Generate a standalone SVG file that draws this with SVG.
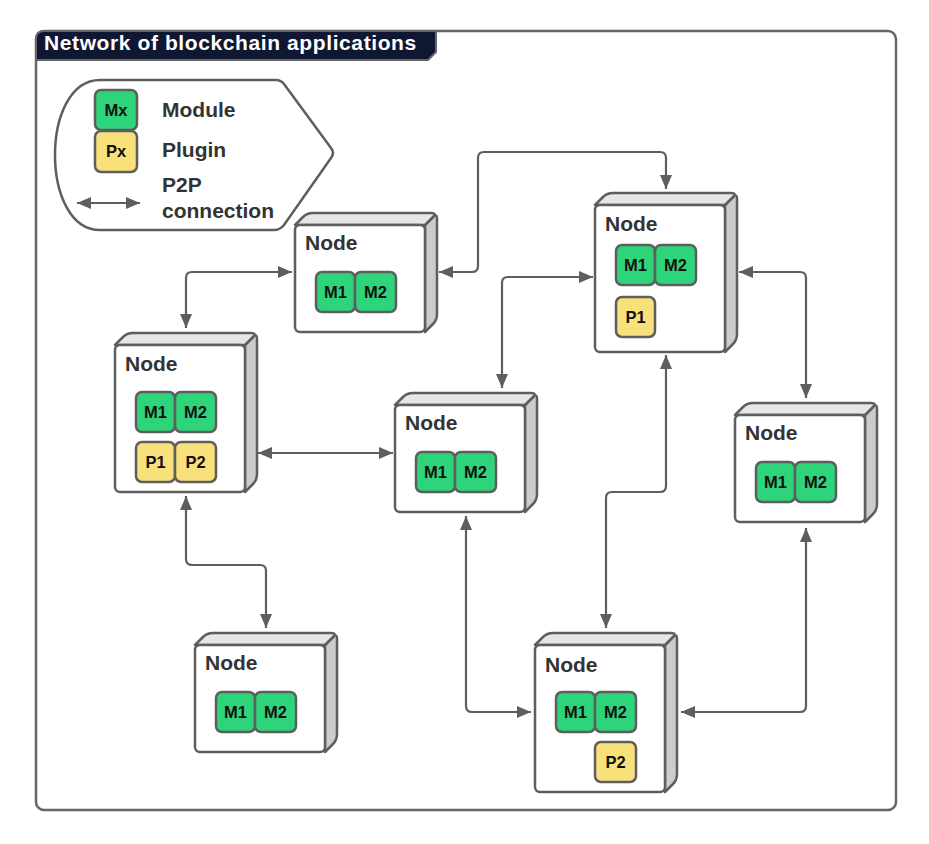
<svg xmlns="http://www.w3.org/2000/svg" width="929" height="844" viewBox="0 0 929 844">
<defs>
<style>
.edge{fill:none;stroke:#5e5e5e;stroke-width:2.2;marker-start:url(#ah);marker-end:url(#ah)}
.front{fill:#fff;stroke:#5e5e5e;stroke-width:2.5}
.top{fill:#e6e6e6;stroke:#5e5e5e;stroke-width:2.5;stroke-linejoin:round}
.side{fill:#cccccc;stroke:#5e5e5e;stroke-width:2.5;stroke-linejoin:round}
.mod{fill:#2ed47a;stroke:#5e5e5e;stroke-width:2.5}
.plg{fill:#f8e07a;stroke:#5e5e5e;stroke-width:2.5}
.mt{font-family:"Liberation Sans",Arial,sans-serif;font-weight:bold;font-size:16.5px;fill:#111;text-anchor:middle}
.nt{font-family:"Liberation Sans",Arial,sans-serif;font-weight:bold;font-size:21px;fill:#333}
.lt{font-family:"Liberation Sans",Arial,sans-serif;font-weight:bold;font-size:21px;fill:#333}
</style>
<marker id="ah" viewBox="0 0 14 12" refX="14" refY="6" markerWidth="14" markerHeight="12" markerUnits="userSpaceOnUse" orient="auto-start-reverse">
<path d="M0,0 L14,6 L0,12 Z" fill="#5e5e5e"/>
</marker>
</defs>
<rect x="0" y="0" width="929" height="844" fill="#fff"/>
<g id="frame">
<rect x="36" y="31" width="860" height="779" rx="8" fill="#fff" stroke="#666" stroke-width="2.5"/>
<path d="M36,39 Q36,31 44,31 H436 V52 L428,60 H36 Z" fill="#0f1733" stroke="#666" stroke-width="2"/>
<text x="44" y="50" font-family="Liberation Sans,Arial,sans-serif" font-weight="bold" font-size="21" letter-spacing="0.6" fill="#fff">Network of blockchain applications</text>
</g>
<g id="legend">
<path d="M100,80 H276 Q281,80 284,84 L331,148 Q335,153 331,158 L284,225 Q280,230 274,230 H100 C40,230 40,80 100,80 Z" fill="#fff" stroke="#5e5e5e" stroke-width="2.5"/>
<rect class="mod" x="95" y="90" width="42" height="40" rx="6"/>
<text class="mt" x="116" y="116">Mx</text>
<rect class="plg" x="95" y="131" width="42" height="41" rx="6"/>
<text class="mt" x="116" y="157">Px</text>
<text class="lt" x="162" y="117">Module</text>
<text class="lt" x="162" y="157">Plugin</text>
<text class="lt" x="162" y="192">P2P</text>
<text class="lt" x="162" y="218">connection</text>
<path class="edge" d="M77,203 H140"/>
</g>
<g id="connectors">
<path class="edge" d="M292,272 H192 Q186,272 186,278 V328"/>
<path class="edge" d="M439,272 H472 Q478,272 478,266 V158 Q478,152 484,152 H660 Q666,152 666,158 V189"/>
<path class="edge" d="M593,277 H508 Q502,277 502,283 V388"/>
<path class="edge" d="M258,453 H393"/>
<path class="edge" d="M739,272 H800 Q806,272 806,278 V398"/>
<path class="edge" d="M666,355 V486 Q666,492 660,492 H612 Q606,492 606,498 V628"/>
<path class="edge" d="M186,496 V559 Q186,565 192,565 H260 Q266,565 266,571 V628"/>
<path class="edge" d="M466,516 V706 Q466,712 472,712 H531"/>
<path class="edge" d="M806,528 V706 Q806,712 800,712 H681"/>
</g>
<g id="node1" transform="translate(295,225)">
<path class="side" d="M130,0 L138,-8 Q142,-12 142,-6 V89 Q142,95 138,99 L130,107 Z"/>
<path class="top" d="M0,0 L8,-8 Q12,-12 18,-12 H136 Q142,-12 138,-8 L130,0 Z"/>
<rect class="front" x="0" y="0" width="130" height="107" rx="5"/>
<text class="nt" x="10" y="25">Node</text>
<rect class="mod" x="21" y="47" width="39" height="40" rx="6"/><text class="mt" x="40.5" y="73">M1</text>
<rect class="mod" x="60" y="47" width="41" height="40" rx="6"/><text class="mt" x="80.5" y="73">M2</text>
</g>
<g id="node2" transform="translate(115,345)">
<path class="side" d="M130,0 L138,-8 Q142,-12 142,-6 V129 Q142,135 138,139 L130,147 Z"/>
<path class="top" d="M0,0 L8,-8 Q12,-12 18,-12 H136 Q142,-12 138,-8 L130,0 Z"/>
<rect class="front" x="0" y="0" width="130" height="147" rx="5"/>
<text class="nt" x="10" y="26">Node</text>
<rect class="mod" x="21" y="47" width="39" height="40" rx="6"/><text class="mt" x="40.5" y="73">M1</text>
<rect class="mod" x="60" y="47" width="41" height="40" rx="6"/><text class="mt" x="80.5" y="73">M2</text>
<rect class="plg" x="21" y="97" width="39" height="40" rx="6"/><text class="mt" x="40.5" y="123">P1</text>
<rect class="plg" x="60" y="97" width="41" height="40" rx="6"/><text class="mt" x="80.5" y="123">P2</text>
</g>
<g id="node3" transform="translate(395,405)">
<path class="side" d="M130,0 L138,-8 Q142,-12 142,-6 V89 Q142,95 138,99 L130,107 Z"/>
<path class="top" d="M0,0 L8,-8 Q12,-12 18,-12 H136 Q142,-12 138,-8 L130,0 Z"/>
<rect class="front" x="0" y="0" width="130" height="107" rx="5"/>
<text class="nt" x="10" y="25">Node</text>
<rect class="mod" x="21" y="47" width="39" height="40" rx="6"/><text class="mt" x="40.5" y="73">M1</text>
<rect class="mod" x="60" y="47" width="41" height="40" rx="6"/><text class="mt" x="80.5" y="73">M2</text>
</g>
<g id="node4" transform="translate(595,205)">
<path class="side" d="M130,0 L138,-8 Q142,-12 142,-6 V129 Q142,135 138,139 L130,147 Z"/>
<path class="top" d="M0,0 L8,-8 Q12,-12 18,-12 H136 Q142,-12 138,-8 L130,0 Z"/>
<rect class="front" x="0" y="0" width="130" height="147" rx="5"/>
<text class="nt" x="10" y="26">Node</text>
<rect class="mod" x="21" y="40" width="39" height="40" rx="6"/><text class="mt" x="40.5" y="66">M1</text>
<rect class="mod" x="60" y="40" width="41" height="40" rx="6"/><text class="mt" x="80.5" y="66">M2</text>
<rect class="plg" x="21" y="92" width="39" height="40" rx="6"/><text class="mt" x="40.5" y="118">P1</text>
</g>
<g id="node5" transform="translate(735,415)">
<path class="side" d="M130,0 L138,-8 Q142,-12 142,-6 V89 Q142,95 138,99 L130,107 Z"/>
<path class="top" d="M0,0 L8,-8 Q12,-12 18,-12 H136 Q142,-12 138,-8 L130,0 Z"/>
<rect class="front" x="0" y="0" width="130" height="107" rx="5"/>
<text class="nt" x="10" y="25">Node</text>
<rect class="mod" x="21" y="47" width="39" height="40" rx="6"/><text class="mt" x="40.5" y="73">M1</text>
<rect class="mod" x="60" y="47" width="41" height="40" rx="6"/><text class="mt" x="80.5" y="73">M2</text>
</g>
<g id="node6" transform="translate(195,645)">
<path class="side" d="M130,0 L138,-8 Q142,-12 142,-6 V89 Q142,95 138,99 L130,107 Z"/>
<path class="top" d="M0,0 L8,-8 Q12,-12 18,-12 H136 Q142,-12 138,-8 L130,0 Z"/>
<rect class="front" x="0" y="0" width="130" height="107" rx="5"/>
<text class="nt" x="10" y="25">Node</text>
<rect class="mod" x="21" y="47" width="39" height="40" rx="6"/><text class="mt" x="40.5" y="73">M1</text>
<rect class="mod" x="60" y="47" width="41" height="40" rx="6"/><text class="mt" x="80.5" y="73">M2</text>
</g>
<g id="node7" transform="translate(535,645)">
<path class="side" d="M130,0 L138,-8 Q142,-12 142,-6 V129 Q142,135 138,139 L130,147 Z"/>
<path class="top" d="M0,0 L8,-8 Q12,-12 18,-12 H136 Q142,-12 138,-8 L130,0 Z"/>
<rect class="front" x="0" y="0" width="130" height="147" rx="5"/>
<text class="nt" x="10" y="27">Node</text>
<rect class="mod" x="21" y="47" width="39" height="40" rx="6"/><text class="mt" x="40.5" y="73">M1</text>
<rect class="mod" x="60" y="47" width="41" height="40" rx="6"/><text class="mt" x="80.5" y="73">M2</text>
<rect class="plg" x="60" y="97" width="41" height="40" rx="6"/><text class="mt" x="80.5" y="123">P2</text>
</g>
</svg>
